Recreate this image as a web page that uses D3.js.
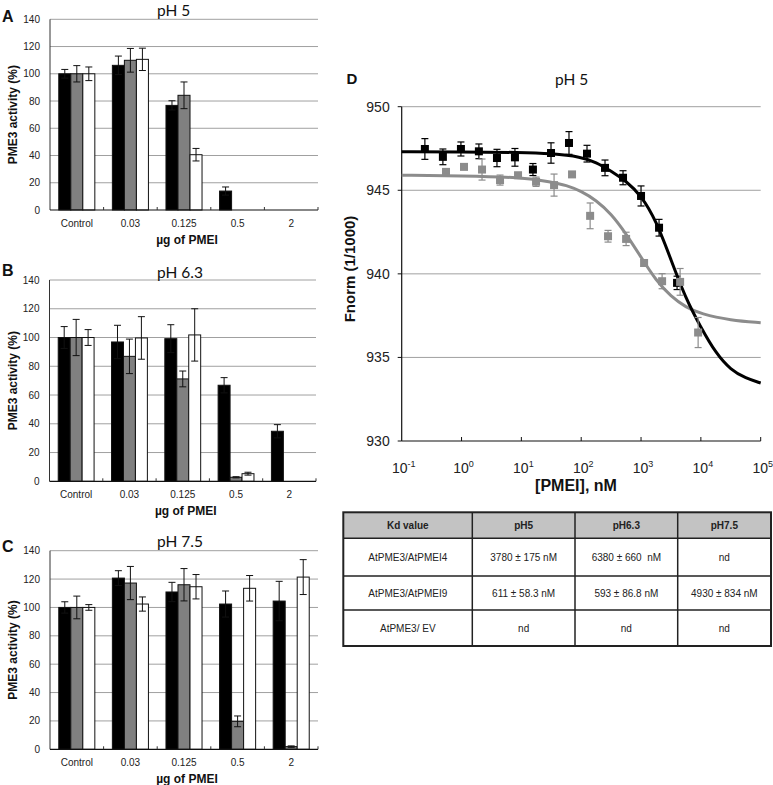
<!DOCTYPE html>
<html>
<head>
<meta charset="utf-8">
<script src="https://cdn.jsdelivr.net/npm/d3@7"></script>
<style>
html,body{margin:0;padding:0;background:#fff;}
svg{display:block;font-family:"Liberation Sans",Arial,sans-serif;}
</style>
</head>
<body>
<svg id="chart" width="773" height="785"></svg>
<script>
// ---------------- DATA ----------------
const categories = ["Control", "0.03", "0.125", "0.5", "2"];
const seriesNames = ["black", "grey", "white"];
const yTicksBar = [0, 20, 40, 60, 80, 100, 120, 140];

// Panel A, pH 5
const aBlack = [100, 106.2, 76.8, 13.9, 0];
const aBlackErr = [3.2, 6.8, 3.4, 3.0, 0];
const aGrey = [100, 109.9, 84.2, 0, 0];
const aGreyErr = [6.0, 8.7, 9.8, 0, 0];
const aWhite = [100, 110.6, 40.6, 0, 0];
const aWhiteErr = [5.0, 8.2, 4.6, 0, 0];

// Panel B, pH 6.3
const bBlack = [100, 96.9, 99.2, 66.8, 34.8];
const bBlackErr = [7.6, 11.6, 9.7, 5.3, 4.6];
const bGrey = [100, 86.9, 71.2, 2.8, 0];
const bGreyErr = [12.6, 12.0, 5.5, 0.4, 0];
const bWhite = [100, 99.7, 101.8, 5.3, 0];
const bWhiteErr = [5.5, 14.8, 18.2, 1.0, 0];

// Panel C, pH 7.5
const cBlack = [100, 120.7, 110.9, 102.4, 104.5];
const cBlackErr = [4.0, 5.2, 6.8, 9.2, 13.9];
const cGrey = [100, 117.2, 116.0, 19.7, 1.9];
const cGreyErr = [8.0, 11.7, 11.4, 3.8, 0.5];
const cWhite = [100, 102.4, 114.6, 113.5, 121.4];
const cWhiteErr = [2.0, 5.0, 8.6, 9.0, 12.3];

// Panel D, pH 5 (MST)
const blackConc = [0.244, 0.488, 0.977, 1.95, 3.91, 7.81, 15.6, 31.3, 62.5, 125, 250, 500, 1000, 2000, 4000];
const blackFnorm = [947.47, 947.0, 947.47, 947.33, 946.93, 946.97, 946.24, 947.23, 947.83, 947.19, 946.34, 945.75, 944.66, 942.76, 939.46];
const blackErr = [0.62, 0.47, 0.42, 0.44, 0.52, 0.53, 0.36, 0.61, 0.68, 0.5, 0.47, 0.42, 0.6, 0.5, 0.4];
const greyConc = [0.55, 1.1, 2.2, 4.4, 8.8, 17.6, 35.2, 70.3, 141, 281, 563, 1125, 2250, 4500, 9000];
const greyFnorm = [946.1, 946.4, 946.24, 945.61, 945.9, 945.51, 945.31, 945.95, 943.47, 942.25, 942.09, 940.65, 939.56, 939.52, 936.49];
const greyErr = [0.15, 0.15, 0.63, 0.3, 0.15, 0.28, 0.66, 0.15, 0.77, 0.35, 0.4, 0.2, 0.45, 0.8, 0.9];

// fitted curves
const blackFitConc = [0.1, 1, 10, 31.6, 100, 178, 316, 562, 1000, 1778, 3162, 5623, 10000, 17783, 31623, 56234, 100000];
const blackFitVal = [947.3, 947.3, 947.27, 947.2, 947.0, 946.68, 946.15, 945.55, 944.7, 943.2, 940.85, 938.5, 936.8, 935.25, 934.25, 933.75, 933.47];
const greyFitConc = [0.1, 1, 10, 31.6, 56.2, 100, 178, 316, 562, 1000, 1778, 3162, 5623, 10000, 31623, 100000];
const greyFitVal = [945.9, 945.87, 945.78, 945.5, 945.3, 944.95, 944.4, 943.6, 942.4, 941.0, 939.6, 938.65, 938.0, 937.6, 937.22, 937.08];

const dYTicks = [930, 935, 940, 945, 950];
const dXExponents = [-1, 0, 1, 2, 3, 4, 5];

// Table
const tableHeader = ["Kd value", "pH5", "pH6.3", "pH7.5"];
const tableRows = [
  ["AtPME3/AtPMEI4", "3780 ± 175 nM", "6380 ± 660  nM", "nd"],
  ["AtPME3/AtPMEI9", "611 ± 58.3 nM", "593 ± 86.8 nM", "4930 ± 834 nM"],
  ["AtPME3/ EV", "nd", "nd", "nd"]
];

// ---------------- DRAW ----------------
const svg = d3.select("#chart");
const fills = {black: "#000000", grey: "#808080", white: "#ffffff"};
const titleFont = "Lato, 'Open Sans', sans-serif";

function barPanel(cfg) {
  const g = svg.append("g");
  const y = d3.scaleLinear().domain([0, 140]).range([cfg.bottom, cfg.top]);
  const x0 = d3.scaleBand().domain(categories).range([cfg.left, cfg.right]).padding(0);
  const x1 = d3.scaleBand().domain(seriesNames).range([0, x0.bandwidth()]).paddingInner(0).paddingOuter(0.73);

  // gridlines
  g.selectAll("line.grid").data(yTicksBar.filter(d => d > 0)).join("line")
    .attr("x1", cfg.left).attr("x2", cfg.right)
    .attr("y1", d => y(d)).attr("y2", d => y(d))
    .attr("stroke", "#a0a0a0").attr("stroke-width", 1);

  // y tick labels
  g.selectAll("text.yt").data(yTicksBar).join("text")
    .attr("x", cfg.left - 10).attr("y", d => y(d)).attr("dy", "0.35em")
    .attr("text-anchor", "end").attr("font-size", 10).attr("fill", "#222")
    .text(d => d);

  // bars
  const rows = categories.map((c, i) => ({c, i}));
  const grp = g.selectAll("g.grp").data(rows).join("g")
    .attr("transform", d => `translate(${x0(d.c)},0)`);
  seriesNames.forEach(s => {
    const vals = cfg.values[s];
    grp.append("rect")
      .attr("x", x1(s)).attr("width", x1.bandwidth())
      .attr("y", d => y(vals[d.i])).attr("height", d => cfg.bottom - y(vals[d.i]))
      .attr("fill", fills[s]).attr("stroke", "#111").attr("stroke-width", 1);
  });
  seriesNames.forEach(s => {
    const vals = cfg.values[s], errs = cfg.errors[s];
    const eg = grp.filter(d => errs[d.i] > 0);
    const cx = x1(s) + x1.bandwidth() / 2;
    eg.append("line").attr("x1", cx).attr("x2", cx)
      .attr("y1", d => y(vals[d.i] + errs[d.i])).attr("y2", d => y(Math.max(0, vals[d.i] - errs[d.i])))
      .attr("stroke", "#111").attr("stroke-width", 1);
    [1, -1].forEach(sg => {
      eg.append("line").attr("x1", cx - 3.5).attr("x2", cx + 3.5)
        .attr("y1", d => y(Math.max(0, vals[d.i] + sg * errs[d.i])))
        .attr("y2", d => y(Math.max(0, vals[d.i] + sg * errs[d.i])))
        .attr("stroke", "#111").attr("stroke-width", 1);
    });
  });

  // axes lines
  g.append("line").attr("x1", cfg.left).attr("x2", cfg.left).attr("y1", cfg.top).attr("y2", cfg.bottom)
    .attr("stroke", "#333").attr("stroke-width", 1);
  g.append("line").attr("x1", cfg.left).attr("x2", cfg.right).attr("y1", cfg.bottom).attr("y2", cfg.bottom)
    .attr("stroke", "#111").attr("stroke-width", 1.2);
  const bounds = categories.slice(1).map(c => x0(c)).concat([cfg.right]);
  g.selectAll("line.xt").data(bounds).join("line")
    .attr("x1", d => d).attr("x2", d => d).attr("y1", cfg.bottom).attr("y2", cfg.bottom - 3)
    .attr("stroke", "#333");

  // x tick labels
  g.selectAll("text.xl").data(categories).join("text")
    .attr("x", d => x0(d) + x0.bandwidth() / 2).attr("y", cfg.bottom + 16.5)
    .attr("text-anchor", "middle").attr("font-size", 10).attr("fill", "#222")
    .text(d => d);

  // axis titles
  g.append("text").attr("x", (cfg.left + cfg.right) / 2 + 3).attr("y", cfg.bottom + 34)
    .attr("text-anchor", "middle").attr("font-size", 12).attr("font-weight", "bold").attr("fill", "#111")
    .text("µg of PMEI");
  g.append("text").attr("transform", `translate(13,${(cfg.top + cfg.bottom) / 2}) rotate(-90)`)
    .attr("dy", "0.35em").attr("text-anchor", "middle").attr("font-size", 12).attr("font-weight", "bold").attr("fill", "#111")
    .text("PME3 activity (%)");

  // title & letter
  g.append("text").attr("x", 157).attr("y", cfg.titleY).attr("font-size", 15.5)
    .attr("font-family", titleFont).attr("fill", "#111").text(cfg.title);
  g.append("text").attr("x", 2).attr("y", cfg.letterY).attr("font-size", 16).attr("font-weight", "bold")
    .attr("fill", "#111").text(cfg.letter);
}

barPanel({letter: "A", title: "pH 5", top: 19.3, bottom: 210, left: 50, right: 318, titleY: 15.5, letterY: 22,
  values: {black: aBlack, grey: aGrey, white: aWhite}, errors: {black: aBlackErr, grey: aGreyErr, white: aWhiteErr}});
barPanel({letter: "B", title: "pH 6.3", top: 280, bottom: 481.3, left: 49.5, right: 316, titleY: 278, letterY: 275.5,
  values: {black: bBlack, grey: bGrey, white: bWhite}, errors: {black: bBlackErr, grey: bGreyErr, white: bWhiteErr}});
barPanel({letter: "C", title: "pH 7.5", top: 550.7, bottom: 749.3, left: 50, right: 318, titleY: 546.5, letterY: 552.3,
  values: {black: cBlack, grey: cGrey, white: cWhite}, errors: {black: cBlackErr, grey: cGreyErr, white: cWhiteErr}});

// ---------- Panel D ----------
(function () {
  const L = 401.7, R = 760.7, T = 106.7, B = 441;
  const g = svg.append("g");
  const x = d3.scaleLog().domain([0.1, 100000]).range([L, R]);
  const y = d3.scaleLinear().domain([930, 950]).range([B, T]);

  g.selectAll("line.grid").data(dYTicks.filter(d => d > 930)).join("line")
    .attr("x1", L).attr("x2", R).attr("y1", d => y(d)).attr("y2", d => y(d))
    .attr("stroke", "#a0a0a0").attr("stroke-width", 1);

  // axes
  g.append("line").attr("x1", L).attr("x2", L).attr("y1", T).attr("y2", B).attr("stroke", "#111").attr("stroke-width", 1.2);
  g.append("line").attr("x1", L).attr("x2", R).attr("y1", B).attr("y2", B).attr("stroke", "#111").attr("stroke-width", 1.2);
  g.selectAll("line.yt").data(dYTicks).join("line")
    .attr("x1", L - 4).attr("x2", L).attr("y1", d => y(d)).attr("y2", d => y(d)).attr("stroke", "#111");
  g.selectAll("line.xt").data(dXExponents.slice(1)).join("line")
    .attr("x1", d => x(Math.pow(10, d))).attr("x2", d => x(Math.pow(10, d)))
    .attr("y1", B).attr("y2", B - 4).attr("stroke", "#111");

  g.selectAll("text.yl").data(dYTicks).join("text")
    .attr("x", L - 12).attr("y", d => y(d)).attr("dy", "0.35em").attr("text-anchor", "end")
    .attr("font-size", 14).attr("fill", "#222").text(d => d);

  const xl = g.selectAll("text.xl").data(dXExponents).join("text")
    .attr("x", d => x(Math.pow(10, d)) + 2).attr("y", 473).attr("text-anchor", "middle")
    .attr("font-size", 14).attr("fill", "#222");
  xl.append("tspan").text("10");
  xl.append("tspan").attr("font-size", 9).attr("dy", -6).text(d => d < 0 ? "-1" : String(d));

  g.append("text").attr("x", 576).attr("y", 491).attr("text-anchor", "middle")
    .attr("font-size", 16).attr("font-weight", "bold").attr("fill", "#111").text("[PMEI], nM");
  g.append("text").attr("transform", `translate(350,269) rotate(-90)`).attr("dy", "0.35em")
    .attr("text-anchor", "middle").attr("font-size", 15).attr("font-weight", "bold").attr("fill", "#111")
    .text("Fnorm (1/1000)");
  g.append("text").attr("x", 555).attr("y", 85).attr("font-size", 15.5).attr("font-family", titleFont)
    .attr("fill", "#111").text("pH 5");
  g.append("text").attr("x", 346.5).attr("y", 83.5).attr("font-size", 15).attr("font-weight", "bold")
    .attr("fill", "#111").text("D");

  const line = d3.line().x(d => x(d[0])).y(d => y(d[1])).curve(d3.curveBasis);
  g.append("path").datum(d3.zip(greyFitConc, greyFitVal)).attr("d", line)
    .attr("fill", "none").attr("stroke", "#8c8c8c").attr("stroke-width", 3);
  g.append("path").datum(d3.zip(blackFitConc, blackFitVal)).attr("d", line)
    .attr("fill", "none").attr("stroke", "#000").attr("stroke-width", 3);

  function points(conc, vals, errs, color) {
    const pts = conc.map((c, i) => ({c, v: vals[i], e: errs[i]}));
    const pg = g.append("g");
    pg.selectAll("line.eb").data(pts).join("line")
      .attr("x1", d => x(d.c)).attr("x2", d => x(d.c)).attr("y1", d => y(d.v + d.e)).attr("y2", d => y(d.v - d.e))
      .attr("stroke", color).attr("stroke-width", 1.2);
    [1, -1].forEach(s => {
      pg.selectAll("line.cap" + s).data(pts).join("line")
        .attr("x1", d => x(d.c) - 3.5).attr("x2", d => x(d.c) + 3.5)
        .attr("y1", d => y(d.v + s * d.e)).attr("y2", d => y(d.v + s * d.e))
        .attr("stroke", color).attr("stroke-width", 1.2);
    });
    pg.selectAll("rect").data(pts).join("rect")
      .attr("x", d => x(d.c) - 4).attr("y", d => y(d.v) - 4).attr("width", 8).attr("height", 8)
      .attr("fill", color);
  }
  points(blackConc, blackFnorm, blackErr, "#000");
  points(greyConc, greyFnorm, greyErr, "#8c8c8c");
})();

// ---------- Table ----------
(function () {
  const colX = [343.3, 472.3, 575, 677.7, 771];
  const rowY = [512.3, 538.3, 576, 610, 646];
  const g = svg.append("g");
  g.append("rect").attr("x", colX[0]).attr("y", rowY[0]).attr("width", colX[4] - colX[0]).attr("height", rowY[1] - rowY[0])
    .attr("fill", "#c3c3c3");
  const allRows = [tableHeader].concat(tableRows);
  allRows.forEach((row, r) => {
    row.forEach((txt, c) => {
      g.append("text").attr("x", (colX[c] + colX[c + 1]) / 2).attr("y", (rowY[r] + rowY[r + 1]) / 2)
        .attr("dy", "0.35em").attr("text-anchor", "middle").attr("font-size", 10)
        .attr("font-weight", r === 0 ? "bold" : "normal").attr("fill", "#222")
        .style("white-space", "pre").text(txt);
    });
  });
  g.selectAll("line.h").data(rowY.slice(1, -1)).join("line")
    .attr("x1", colX[0]).attr("x2", colX[4]).attr("y1", d => d).attr("y2", d => d)
    .attr("stroke", "#222").attr("stroke-width", 1.5);
  g.selectAll("line.v").data(colX.slice(1, -1)).join("line")
    .attr("x1", d => d).attr("x2", d => d).attr("y1", rowY[0]).attr("y2", rowY[4])
    .attr("stroke", "#222").attr("stroke-width", 1.5);
  g.append("rect").attr("x", colX[0]).attr("y", rowY[0]).attr("width", colX[4] - colX[0]).attr("height", rowY[4] - rowY[0])
    .attr("fill", "none").attr("stroke", "#222").attr("stroke-width", 2);
})();
</script>
</body>
</html>
